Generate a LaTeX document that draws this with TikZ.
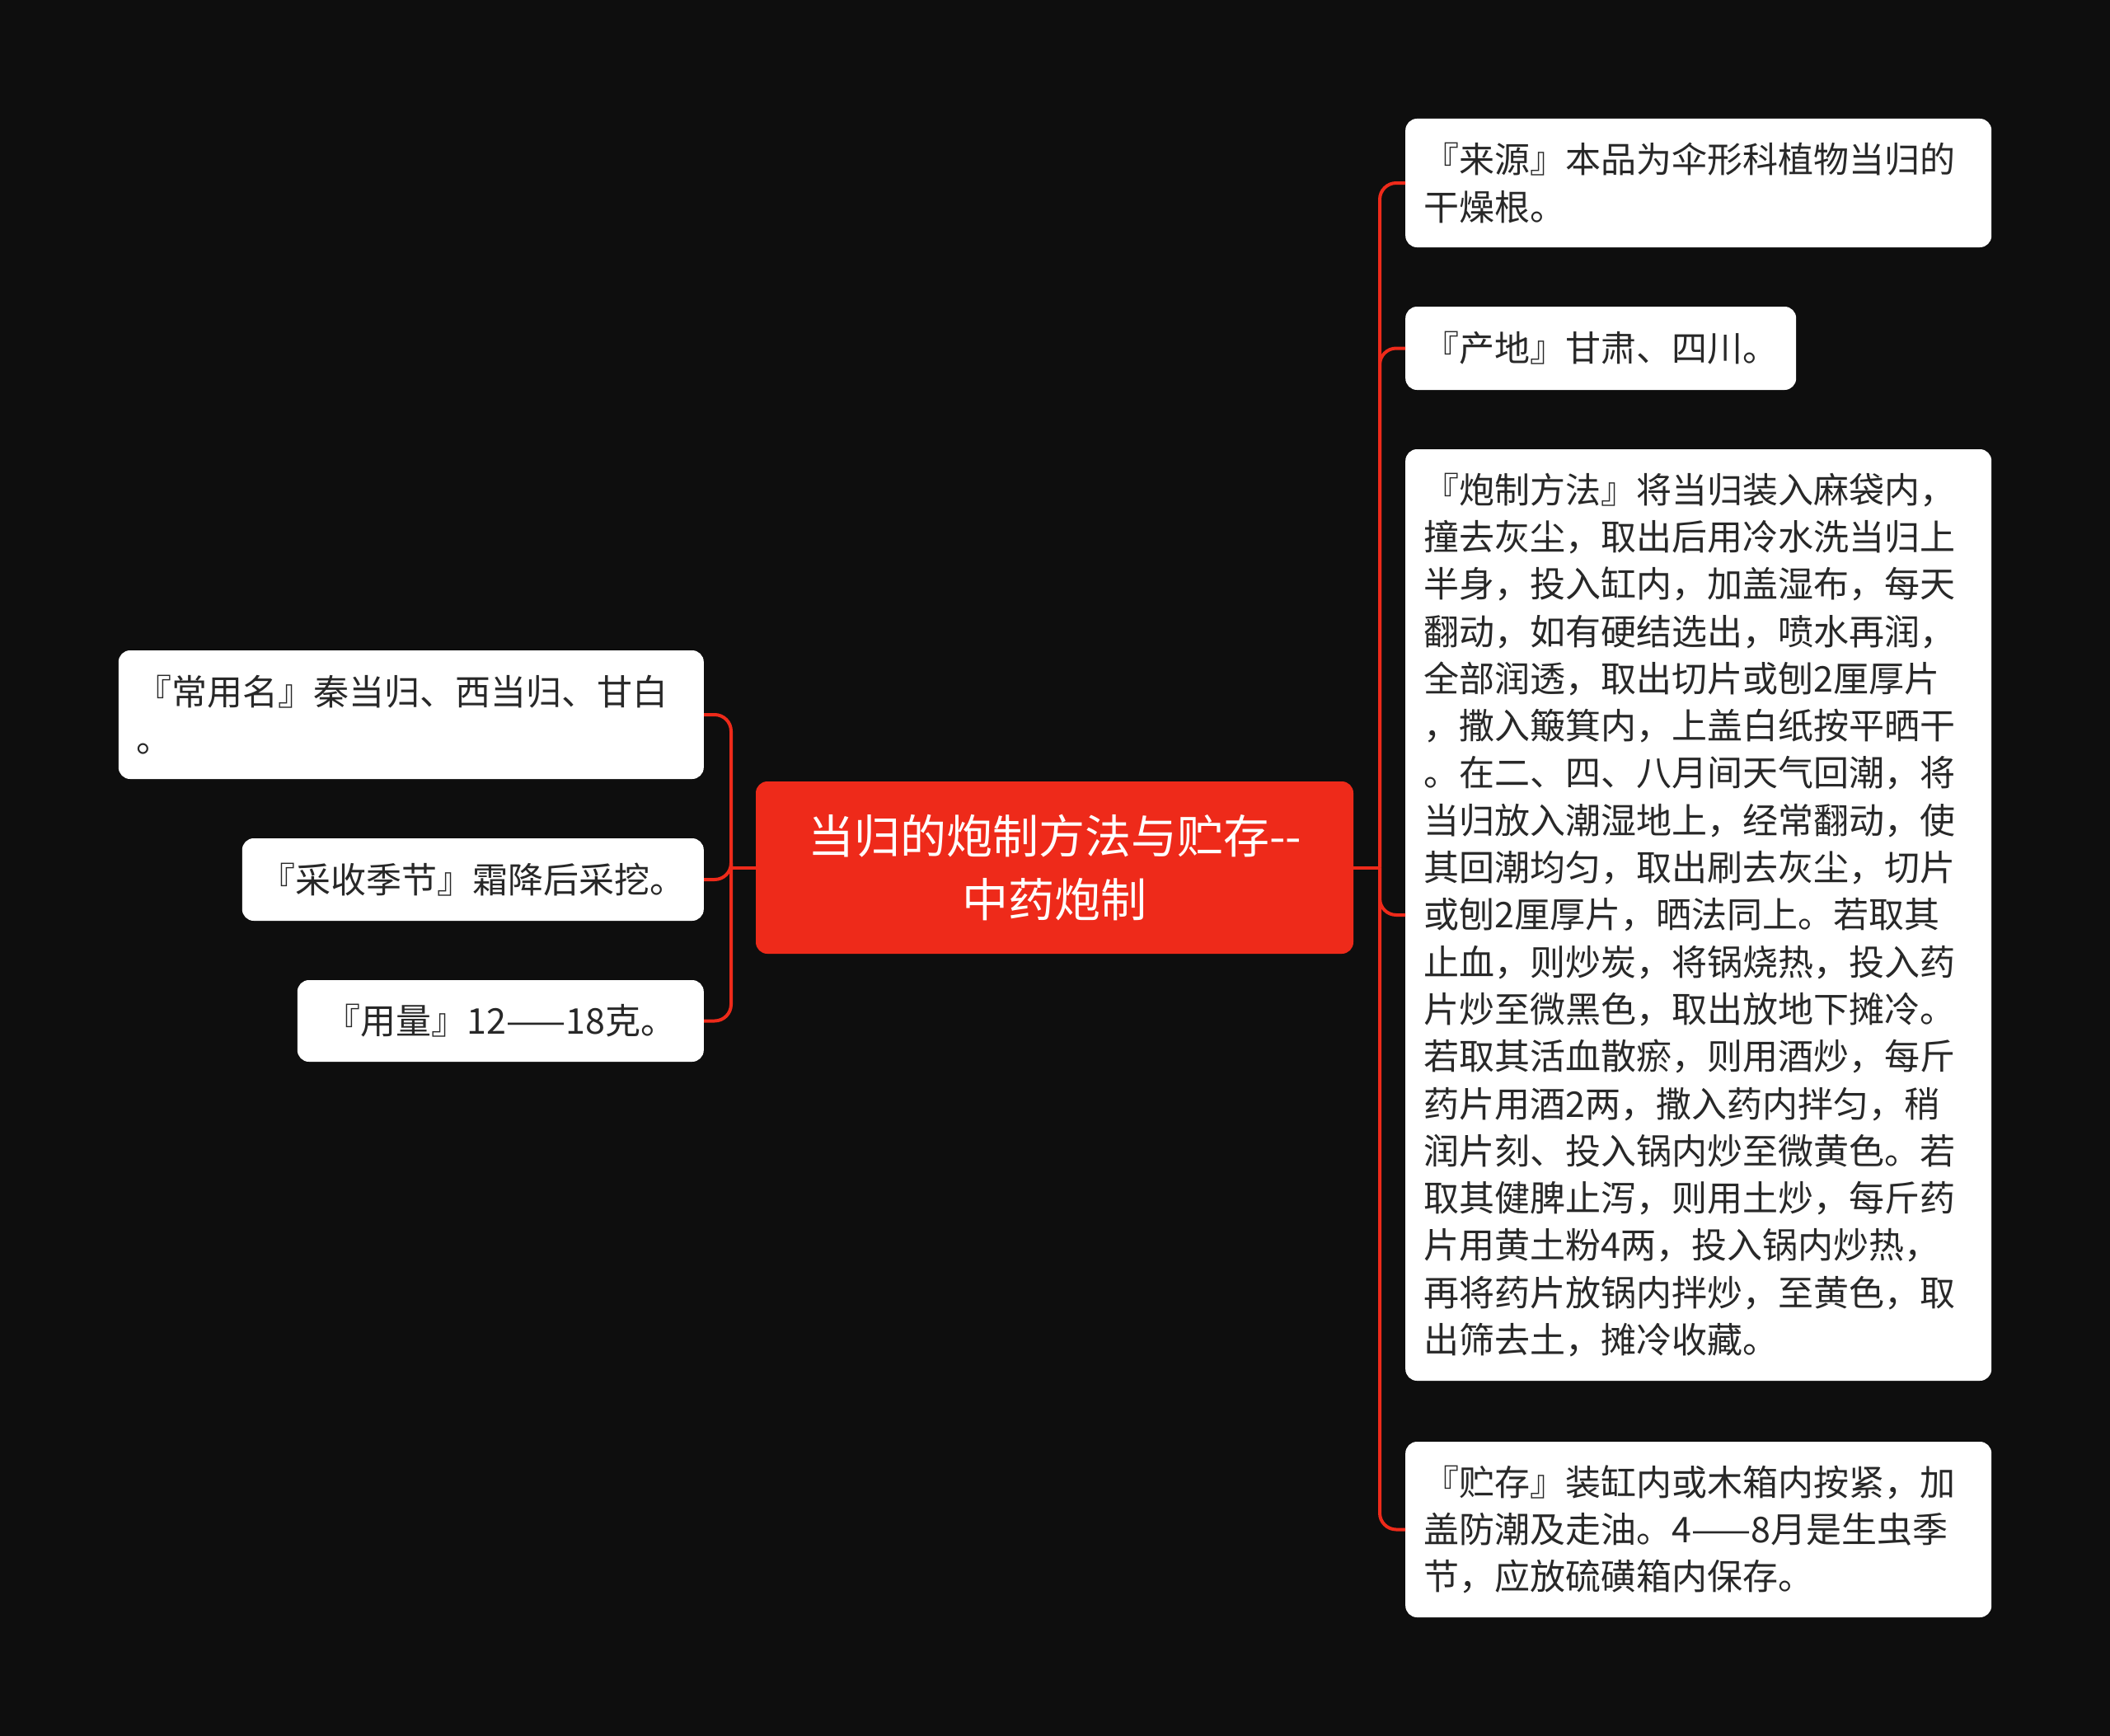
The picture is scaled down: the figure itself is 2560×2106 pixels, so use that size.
\documentclass[tikz,border=0pt]{standalone}
\usepackage{fontspec}
\usepackage{tikz}
\usetikzlibrary{positioning,calc}
\setmainfont{Noto Sans CJK SC}
\definecolor{canvasblack}{RGB}{14,14,14}
\definecolor{rootred}{RGB}{238,42,26}
\definecolor{leafgray}{RGB}{40,40,40}

\begin{document}
\begin{tikzpicture}[x=1pt,y=-1pt,
    rootbox/.style={fill=rootred, rounded corners=14pt, text=white, align=center,
        minimum width=725pt, minimum height=209pt, font=\fontsize{56}{77}\selectfont},
    leafbox/.style={fill=white, rounded corners=14pt, text=leafgray, align=left,
        inner xsep=22pt, inner ysep=0pt, font=\fontsize{43}{57.3}\selectfont},
    branch/.style={rootred, line width=4pt, rounded corners=20pt}]
    % Canvas
    \fill[canvasblack] (0,0) rectangle (2560,2106);
    \useasboundingbox (0,0) rectangle (2560,2106);

    % Central topic
    \node[rootbox] (root) at (1279.5,1052.5) {当归的炮制方法与贮存-{}-\\中药炮制};

    % Right side
    \node[leafbox, anchor=west, text width=667pt, minimum height=156pt] (src) at (1705,222)
        {『来源』本品为伞形科植物当归的\\干燥根。};
    \node[leafbox, anchor=west, minimum width=473pt, minimum height=101pt] (origin) at (1705,422.5)
        {『产地』甘肃、四川。};
    \node[leafbox, anchor=west, text width=667pt, minimum height=1130pt] (method) at (1705,1110)
        {『炮制方法』将当归装入麻袋内，\\
         撞去灰尘，取出后用冷水洗当归上\\
         半身，投入缸内，加盖湿布，每天\\
         翻动，如有硬结选出，喷水再润，\\
         全部润透，取出切片或刨2厘厚片\\
         ，撒入簸箕内，上盖白纸按平晒干\\
         。在二、四、八月间天气回潮，将\\
         当归放入潮湿地上，经常翻动，使\\
         其回潮均匀，取出刷去灰尘，切片\\
         或刨2厘厚片，晒法同上。若取其\\
         止血，则炒炭，将锅烧热，投入药\\
         片炒至微黑色，取出放地下摊冷。\\
         若取其活血散瘀，则用酒炒，每斤\\
         药片用酒2两，撒入药内拌匀，稍\\
         润片刻、投入锅内炒至微黄色。若\\
         取其健脾止泻，则用土炒，每斤药\\
         片用黄土粉4两，投入锅内炒热，\\
         再将药片放锅内拌炒，至黄色，取\\
         出筛去土，摊冷收藏。};
    \node[leafbox, anchor=west, text width=667pt, minimum height=213pt] (store) at (1705,1855.5)
        {『贮存』装缸内或木箱内按紧，加\\盖防潮及走油。4——8月是生虫季\\节，应放硫磺箱内保存。};

    % Left side
    \node[leafbox, anchor=east, text width=666pt, minimum height=156pt] (names) at (854,867)
        {『常用名』秦当归、西当归、甘白\\。};
    \node[leafbox, anchor=east, minimum width=558pt, minimum height=100pt] (harvest) at (854,1067)
        {『采收季节』霜降后采挖。};
    \node[leafbox, anchor=east, minimum width=493pt, minimum height=99pt] (dose) at (854,1238.5)
        {『用量』12——18克。};

    % Connectors
    \coordinate (rhub) at (1674,1052.5);
    \coordinate (lhub) at (887,1052.5);
    \draw[branch] (root.east) -- (rhub);
    \draw[branch] (root.west) -- (lhub);
    \foreach \leaf in {src,origin,method,store} {
        \draw[branch] (rhub) |- (\leaf.west);
    }
    \foreach \leaf in {names,dose} {
        \draw[branch] (lhub) |- (\leaf.east);
    }
    \draw[branch] (lhub) |- (harvest.east);
\end{tikzpicture}
\end{document}
